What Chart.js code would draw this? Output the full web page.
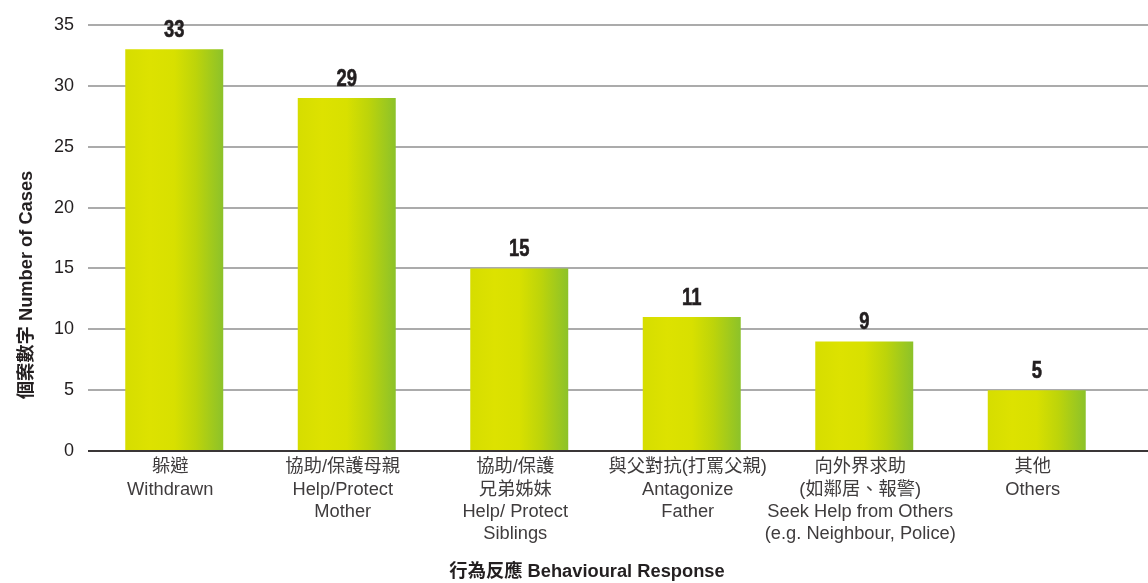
<!DOCTYPE html>
<html>
<head>
<meta charset="utf-8">
<script src="https://cdn.jsdelivr.net/npm/chart.js@4"></script>
<style>
  html, body { margin: 0; padding: 0; background: #fff; }
  #wrap { width: 1148px; height: 583px; position: relative; }
</style>
</head>
<body>
<div id="wrap"><canvas id="responseChart" width="1148" height="583"></canvas></div>
<script>
// 行為反應 - 個案數字
const categories = [
    ['躲避', 'Withdrawn'],
    ['協助/保護母親', 'Help/Protect', 'Mother'],
    ['協助/保護', '兄弟姊妹', 'Help/ Protect', 'Siblings'],
    ['與父對抗(打罵父親)', 'Antagonize', 'Father'],
    ['向外界求助', '(如鄰居、報警)', 'Seek Help from Others', '(e.g. Neighbour, Police)'],
    ['其他', 'Others']
];
const cases = [33, 29, 15, 11, 9, 5];
const yTicks = [0, 5, 10, 15, 20, 25, 30, 35];
const yTitle = '個案數字 Number of Cases';
const xTitle = '行為反應 Behavioural Response';

const ctx = document.getElementById('responseChart').getContext('2d');

const BAR_FRACTION = 0.568;

// yellow -> green gradient across each bar
function barGradient(context) {
    const chart = context.chart;
    const xScale = chart.scales.x;
    if (!chart.chartArea || !xScale) return '#d6df00';
    const cx = xScale.getPixelForValue(context.dataIndex);
    const half = (xScale.width / categories.length) * BAR_FRACTION / 2;
    const g = chart.ctx.createLinearGradient(cx - half, 0, cx + half, 0);
    g.addColorStop(0, '#d6dd00');
    g.addColorStop(0.25, '#dde200');
    g.addColorStop(0.5, '#d8e000');
    g.addColorStop(0.72, '#bdd40a');
    g.addColorStop(1, '#8cc22a');
    return g;
}

// grid lines run past the plot area to the right edge, baseline in dark grey
const fullGrid = {
    id: 'fullGrid',
    beforeDatasetsDraw(chart) {
        const {ctx, chartArea: {left}, scales: {y}} = chart;
        const right = chart.width;
        ctx.save();
        ctx.lineWidth = 2;
        ctx.strokeStyle = '#ababab';
        yTicks.forEach(v => {
            if (v === 0) return;
            const py = Math.round(y.getPixelForValue(v));
            ctx.beginPath();
            ctx.moveTo(left, py);
            ctx.lineTo(right, py);
            ctx.stroke();
        });
        ctx.restore();
    },
    afterDatasetsDraw(chart) {
        const {ctx, chartArea: {left}, scales: {y}} = chart;
        const py = Math.round(y.getPixelForValue(0));
        ctx.save();
        ctx.lineWidth = 2;
        ctx.strokeStyle = '#3a3637';
        ctx.beginPath();
        ctx.moveTo(left, py);
        ctx.lineTo(chart.width, py);
        ctx.stroke();
        ctx.restore();
    }
};

// numbers above bars, in a narrowed bold face
const valueLabels = {
    id: 'valueLabels',
    afterDatasetsDraw(chart) {
        const {ctx} = chart;
        const meta = chart.getDatasetMeta(0);
        ctx.save();
        ctx.fillStyle = '#231f20';
        ctx.strokeStyle = '#231f20';
        ctx.lineWidth = 0.6;
        ctx.font = 'bold 23px "Liberation Sans", sans-serif';
        ctx.textAlign = 'center';
        ctx.textBaseline = 'alphabetic';
        meta.data.forEach((bar, i) => {
            ctx.save();
            ctx.translate(bar.x, bar.y - 12);
            ctx.scale(0.8, 1);
            ctx.fillText(String(cases[i]), 0, 0);
            ctx.strokeText(String(cases[i]), 0, 0);
            ctx.restore();
        });
        ctx.restore();
    }
};

// axis titles
const axisTitles = {
    id: 'axisTitles',
    afterDraw(chart) {
        const {ctx} = chart;
        ctx.save();
        ctx.fillStyle = '#231f20';
        ctx.textAlign = 'center';
        ctx.textBaseline = 'middle';
        ctx.font = 'bold 18.3px "Liberation Sans", "Noto Sans CJK TC", sans-serif';
        ctx.fillText(xTitle, 587, 572);
        ctx.translate(27, 285);
        ctx.rotate(-Math.PI / 2);
        ctx.font = 'bold 18.3px "Liberation Sans", "Noto Sans CJK TC", sans-serif';
        ctx.fillText(yTitle, 0, 0);
        ctx.restore();
    }
};

new Chart(ctx, {
    type: 'bar',
    data: {
        labels: categories,
        datasets: [{
            data: cases,
            backgroundColor: barGradient,
            borderWidth: 0,
            barPercentage: BAR_FRACTION,
            categoryPercentage: 1
        }]
    },
    options: {
        responsive: false,
        animation: false,
        layout: {
            padding: {top: 25, right: 25, left: 0, bottom: 0}
        },
        plugins: {
            legend: {display: false},
            tooltip: {enabled: false}
        },
        scales: {
            y: {
                min: 0,
                max: 35,
                afterFit(scale) { scale.width = 88; },
                border: {display: false},
                grid: {display: false, drawTicks: false},
                ticks: {
                    stepSize: 5,
                    padding: 14,
                    color: '#231f20',
                    font: {size: 18, family: '"Liberation Sans", sans-serif'}
                }
            },
            x: {
                afterFit(scale) { scale.height = 132; },
                border: {display: false},
                grid: {display: false, drawTicks: false},
                ticks: {
                    autoSkip: false,
                    maxRotation: 0,
                    minRotation: 0,
                    padding: 5,
                    labelOffset: -4,
                    color: '#3f3c3d',
                    font: {
                        size: 18.3,
                        lineHeight: 1.22,
                        family: '"Liberation Sans", "Noto Sans CJK TC", sans-serif'
                    }
                }
            }
        }
    },
    plugins: [fullGrid, valueLabels, axisTitles]
});
</script>
</body>
</html>
